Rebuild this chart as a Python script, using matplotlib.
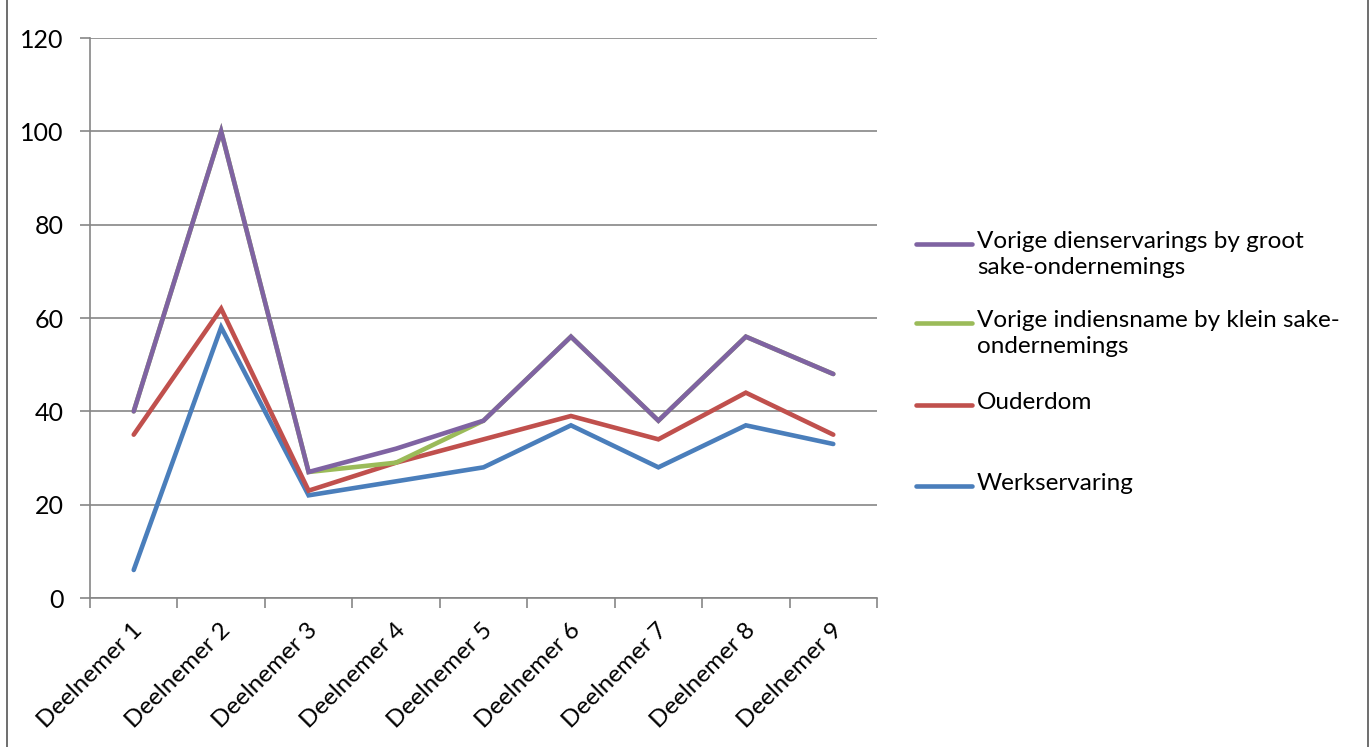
import numpy as np
import matplotlib.pyplot as plt
from matplotlib.lines import Line2D

plt.rcParams['font.family'] = ['Lato', 'DejaVu Sans']

# data
categories = ["Deelnemer %d" % i for i in range(1, 10)]
groot = [40, 100, 27, 32, 38, 56, 38, 56, 48]
klein = [40, 100, 27, 29, 38, 56, 38, 56, 48]
ouderdom = [35, 62, 23, 29, 34, 39, 34, 44, 35]
werk = [6, 58, 22, 25, 28, 37, 28, 37, 33]

labels = ["Vorige dienservarings by groot\nsake-ondernemings",
          "Vorige indiensname by klein sake-\nondernemings",
          "Ouderdom",
          "Werkservaring"]
colors = ["#7F63A2", "#9BBB59", "#C0504D", "#4A7EBB"]

fig = plt.figure(figsize=(13.71, 7.47), dpi=100)
ax = fig.add_axes([90/1371, 1-598/747, 787/1371, 560/747])

x = np.arange(len(categories))
series = [groot, klein, ouderdom, werk]
# draw bottom to top: werk, ouderdom, klein, groot
for i in [3, 2, 1, 0]:
    ax.plot(x, series[i], color=colors[i], lw=3.3, solid_capstyle='round',
            solid_joinstyle='miter', zorder=3 + (3 - i))

ax.set_xlim(-0.5, 8.5)
ax.set_ylim(0, 120)
ax.set_yticks(np.arange(0, 121, 20))
ax.grid(axis='y', color='#868686', lw=1.2)
ax.set_axisbelow(True)
for s in ['top', 'right']:
    ax.spines[s].set_visible(False)
for s in ['left', 'bottom']:
    ax.spines[s].set_color('#868686')
    ax.spines[s].set_linewidth(1.2)

ax.set_xticks(np.arange(-0.5, 9.0, 1.0))
ax.set_xticklabels([])
ax.tick_params(axis='x', length=7, color='#868686', width=1.2)
ax.tick_params(axis='y', length=7, color='#868686', width=1.2, labelsize=18, pad=12)
for i, c in enumerate(categories):
    ax.text(x[i] - 0.02, -4.6, c, rotation=45, ha='right', va='top',
            rotation_mode='anchor', fontsize=17.5)

# legend drawn by hand, Excel style
ys = [1-244/747, 1-323/747, 1-405/747, 1-486/747]
for i in range(4):
    fig.add_artist(Line2D([916/1371, 972/1371], [ys[i], ys[i]], color=colors[i],
                          lw=3.3, solid_capstyle='round'))
    fig.text(977/1371, ys[i] + 13/747, labels[i], fontsize=17.5, va='top',
             linespacing=1.28)

# frame lines
fig.add_artist(Line2D([7/1371, 7/1371], [0, 1], color='#555555', lw=1.2))
fig.add_artist(Line2D([1368/1371, 1368/1371], [0, 1], color='#555555', lw=1.2))

fig.savefig("out.png", dpi=100)
